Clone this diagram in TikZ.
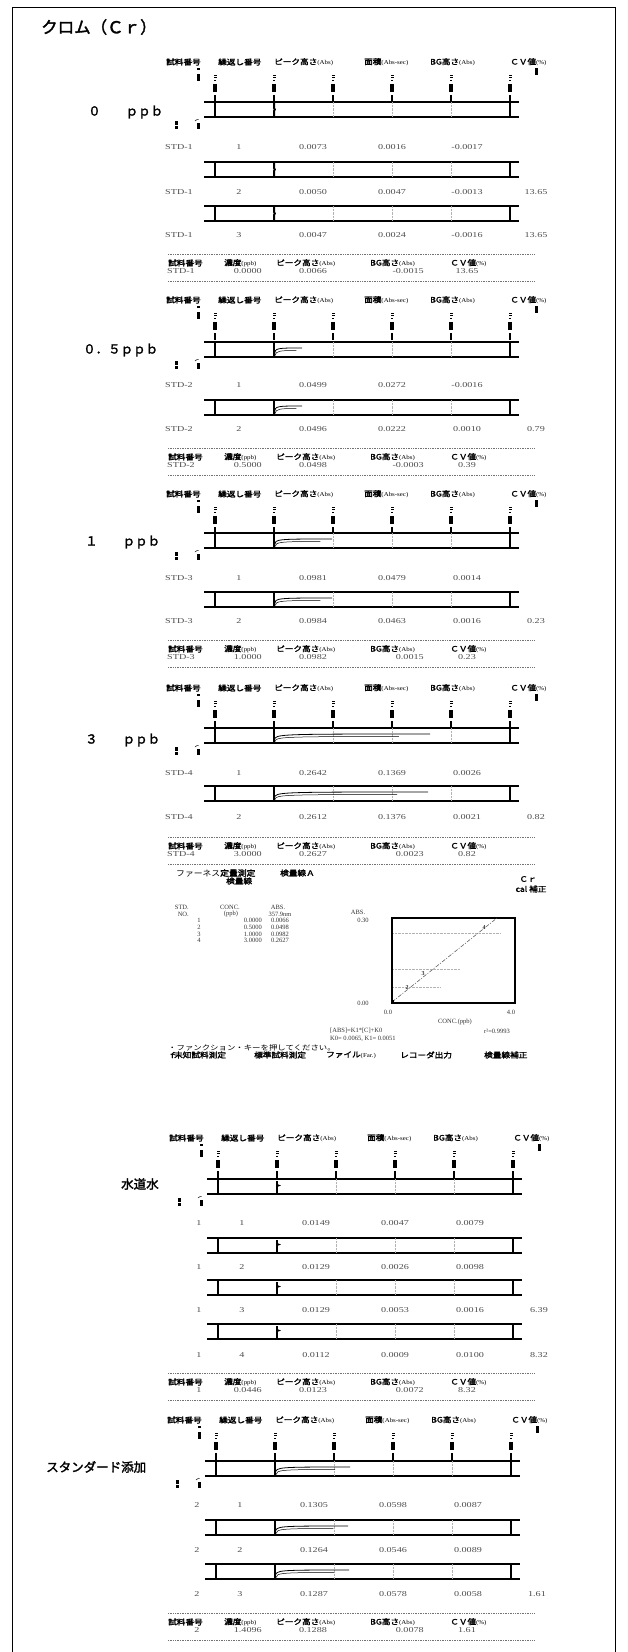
\documentclass[tikz,border=0pt]{standalone}
\usepackage{fontspec}
\setmainfont{Liberation Serif}
\newfontfamily\jfont{Noto Sans CJK JP}
\newfontfamily\jbold{Noto Sans CJK JP}[FakeBold=2]
\newfontfamily\numfont{Liberation Serif}

\tikzset{
  hdr/.style={anchor=west,inner sep=0pt,xscale=1.15,font=\jbold\fontsize{7.5}{8}\selectfont},
  val/.style={inner sep=0pt,xscale=1.35,text=black!70,font=\numfont\fontsize{7.5}{8}\selectfont},
  conc/.style={anchor=west,inner sep=0pt,font=\jbold\fontsize{12.5}{13}\selectfont},
  tiny/.style={inner sep=0pt,text=black!80,font=\numfont\fontsize{6.5}{7}\selectfont},
  rail/.style={line width=1.3pt},
  edge/.style={line width=1.4pt},
  faint/.style={black!30,line width=0.4pt,densely dotted},
  spike/.style={line width=1.6pt},
  cut/.style={black!55,line width=0.5pt,dash pattern=on 1pt off 0.7pt},
}
\newcommand{\ab}[1]{{\numfont\fontsize{6}{7}\selectfont #1}}

% small unreadable print marks
\newcommand{\tickglyph}[2]{%
  \fill (#1-1.5,#2) rectangle ++(3,1.2);
  \fill (#1-1.5,#2+2) rectangle ++(3,1.2);
  \fill (#1-0.6,#2+5) rectangle ++(1.2,1.2);
  \fill (#1-1.8,#2+9) rectangle ++(3.6,8);
}
\newcommand{\colhead}[2]{%
  \node[hdr] (h#2a) at (#1-49,#2) {試料番号};
  \node[hdr] (h#2b) at (#1+3,#2) {繰返し番号};
  \node[hdr] (h#2c) at (#1+59,#2) {ピーク高さ\ab{(Abs)}};
  \node[hdr] (h#2d) at (#1+149,#2) {面積\ab{(Abs-sec)}};
  \node[hdr] (h#2e) at (#1+215,#2) {BG高さ\ab{(Abs)}};
  \node[hdr] (h#2f) at (#1+295,#2) {ＣＶ値\ab{(\%)}};
  \fill (#1-18.5,#2+6) rectangle ++(3,2);
  \fill (#1-18.5,#2+12) rectangle ++(3,7);
  \fill (#1+319.5,#2+6) rectangle ++(3,7);
  \foreach \k in {0,...,5}{
    \tickglyph{#1+59*\k}{#2+13}
    \draw[edge] (#1+59*\k,#2+33) -- (#1+59*\k,#2+40);
  }
}
\newcommand{\panel}[2]{%
  \draw[rail] (#1-11,#2) -- ++(315,0);
  \draw[rail] (#1-11,#2+15) -- ++(315,0);
  \draw[edge] (#1,#2) -- ++(0,15);
  \draw[edge] (#1+295,#2) -- ++(0,15);
  \foreach \k in {2,3,4} \draw[faint] (#1+59*\k,#2) -- ++(0,15);
}
\newcommand{\lowmarks}[2]{%
  \fill (#1-40,#2+4) rectangle ++(2.5,4);
  \fill (#1-40,#2+9) rectangle ++(2.5,3);
  \draw[line width=0.5pt] (#1-20,#2+4) -- ++(2,-1.5) -- ++(1.5,0);
  \fill (#1-18.5,#2+6) rectangle ++(3,6);
}
\newcommand{\blip}[2]{%
  \draw[spike,line width=2pt] (#1+59,#2+1) -- ++(0,5) -- ++(0.8,1.5) -- ++(-0.8,1.5) -- ++(0,6);
}
\newcommand{\flag}[2]{%
  \draw[spike] (#1+59,#2+2) -- ++(0,13);
  \fill (#1+59,#2+5) -- ++(4,1.5) -- ++(-4,1.5) -- cycle;
}
\newcommand{\tail}[3]{%
  \draw[spike] (#1+59,#2+1) -- ++(0,14);
  \draw[line width=0.8pt] (#1+59.5,#2+12) .. controls (#1+60,#2+6) and (#1+62,#2+6) .. (#1+59+#3,#2+6);
  \draw[line width=0.5pt] (#1+60,#2+13.5) .. controls (#1+61,#2+9) and (#1+64,#2+8.5) .. (#1+59+0.8*#3,#2+8.5);
}
\newcommand{\rowvals}[9]{%
  \node[val] (r#2a) at (#3,#2) {#4};
  \node[val] (r#2b) at (#1+24,#2) {#5};
  \node[val] (r#2c) at (#1+98,#2) {#6};
  \node[val] (r#2d) at (#1+177,#2) {#7};
  \node[val] (r#2e) at (#1+252,#2) {#8};
  \node[val] (r#2f) at (#1+321,#2) {#9};
}
\newcommand{\summary}[8]{%
  \draw[cut] (#1-47,#2-9) -- (#1+319,#2-9);
  \node[hdr] (s#2a) at (#1-47,#2) {試料番号};
  \node[hdr] (s#2b) at (#1+9,#2) {濃度\ab{(ppb)}};
  \node[hdr] (s#2c) at (#1+61,#2) {ピーク高さ\ab{(Abs)}};
  \node[hdr] (s#2d) at (#1+155,#2) {BG高さ\ab{(Abs)}};
  \node[hdr] (s#2e) at (#1+235,#2) {ＣＶ値\ab{(\%)}};
  \node[val] (v#2a) at (#3,#2+8) {#4};
  \node[val,anchor=east] (v#2b) at (#1+47,#2+8) {#5};
  \node[val] (v#2c) at (#1+98,#2+8) {#6};
  \node[val,anchor=east] (v#2d) at (#1+209,#2+8) {#7};
  \node[val] (v#2e) at (#1+252,#2+8) {#8};
  \draw[cut] (#1-47,#2+18) -- (#1+319,#2+18);
}

\begin{document}
\begin{tikzpicture}[x=1pt,y=-1pt]
\useasboundingbox (0,0) rectangle (628,1652);
\draw[line width=1pt] (12,1652) -- (12,7) -- (615,7) -- (615,1652);
\node[anchor=west,inner sep=0pt,font=\jbold\fontsize{16.5}{17}\selectfont] (ttl) at (41,27) {クロム（Ｃｒ）};

% 0 ppb
\colhead{215}{62}
\node[conc] (c0) at (88,112) {０　　ｐｐｂ};
\panel{215}{102}\blip{215}{102}\lowmarks{215}{117}
\rowvals{215}{147}{179}{STD-1}{1}{0.0073}{0.0016}{-0.0017}{}
\panel{215}{162}\blip{215}{162}
\rowvals{215}{192}{179}{STD-1}{2}{0.0050}{0.0047}{-0.0013}{13.65}
\panel{215}{206}\blip{215}{206}
\rowvals{215}{235}{179}{STD-1}{3}{0.0047}{0.0024}{-0.0016}{13.65}
\summary{215}{263}{181}{STD-1}{0.0000}{0.0066}{-0.0015}{13.65}

% 0.5 ppb
\colhead{215}{300}
\node[conc] (c05) at (83,350) {０．５ｐｐｂ};
\panel{215}{342}\tail{215}{342}{28}\lowmarks{215}{357}
\rowvals{215}{385}{179}{STD-2}{1}{0.0499}{0.0272}{-0.0016}{}
\panel{215}{400}\tail{215}{400}{28}
\rowvals{215}{429}{179}{STD-2}{2}{0.0496}{0.0222}{0.0010}{0.79}
\summary{215}{457}{181}{STD-2}{0.5000}{0.0498}{-0.0003}{0.39}

% 1 ppb
\colhead{215}{494}
\node[conc] (c1) at (85,542) {１　　ｐｐｂ};
\panel{215}{533}\tail{215}{533}{58}\lowmarks{215}{548}
\rowvals{215}{578}{179}{STD-3}{1}{0.0981}{0.0479}{0.0014}{}
\panel{215}{592}\tail{215}{592}{58}
\rowvals{215}{621}{179}{STD-3}{2}{0.0984}{0.0463}{0.0016}{0.23}
\summary{215}{649}{181}{STD-3}{1.0000}{0.0982}{0.0015}{0.23}

% 3 ppb
\colhead{215}{688}
\node[conc] (c3) at (85,740) {３　　ｐｐｂ};
\panel{215}{728}\tail{215}{728}{156}\lowmarks{215}{743}
\rowvals{215}{773}{179}{STD-4}{1}{0.2642}{0.1369}{0.0026}{}
\panel{215}{786}\tail{215}{786}{154}
\rowvals{215}{817}{179}{STD-4}{2}{0.2612}{0.1376}{0.0021}{0.82}
\summary{215}{846}{181}{STD-4}{3.0000}{0.2627}{0.0023}{0.82}

% calibration
\node[anchor=west,inner sep=0pt,xscale=1.1,font=\jfont\fontsize{8}{9}\selectfont] (fur) at (176,873) {ファーネス{\jbold 定量測定}};
\node[hdr] (kA) at (280,873) {検量線Ａ};
\node[hdr] (kB) at (226,881) {検量線};
\node[hdr,anchor=center] (cr) at (528,879) {Ｃｒ};
\node[hdr,anchor=center] (cal) at (531,889) {cal 補正};
\node[tiny,anchor=east] (t1) at (189,907) {STD.};
\node[tiny,anchor=east] (t2) at (189,914) {NO.};
\node[tiny] (t3) at (230,907) {CONC.};
\node[tiny] (t4) at (231,914) {(ppb)};
\node[tiny] (t5) at (278,907) {ABS.};
\node[tiny] (t6) at (280,914) {357.9nm};
\foreach \n/\c/\a [count=\i] in {1/0.0000/0.0066,2/0.5000/0.0498,3/1.0000/0.0982,4/3.0000/0.2627}{
  \node[tiny] (n\i) at (199,914+6.7*\i) {\n};
  \node[tiny,anchor=east] (cc\i) at (262,914+6.7*\i) {\c};
  \node[tiny] (aa\i) at (280,914+6.7*\i) {\a};
}
\node[tiny] (ya) at (358,912) {ABS.};
\node[tiny] (yt) at (363,920) {0.30};
\node[tiny] (yb) at (363,1003) {0.00};
\node[tiny] (xa) at (388,1012) {0.0};
\node[tiny] (xb) at (511,1012) {4.0};
\node[tiny] (xl) at (455,1022) {CONC.(ppb)};
\draw[faint] (392,933) -- (500,933);
\draw[faint] (392,969) -- (460,969);
\draw[faint] (392,987) -- (440,987);
\draw[line width=1.2pt] (392,918) rectangle (515,1003);
\draw[black!70,line width=0.5pt,dash pattern=on 4pt off 1.5pt on 1pt off 1.5pt] (392,1002) -- (497,918);
\fill (392,1000) rectangle ++(2,2);
\node[tiny,font=\numfont\bfseries\fontsize{6}{7}\selectfont] (p2) at (407,988) {2};
\node[tiny,font=\numfont\bfseries\fontsize{6}{7}\selectfont] (p3) at (423,974) {3};
\node[tiny,font=\numfont\bfseries\fontsize{6}{7}\selectfont] (p4) at (484,928) {4};
\node[tiny,anchor=west] (eq) at (330,1031) {[ABS]=K1*[C]+K0};
\node[tiny,anchor=west] (r2) at (484,1031) {r²=0.9993};
\node[tiny,anchor=west] (kk) at (330,1039) {K0= 0.0065, K1= 0.0051};
\node[anchor=west,inner sep=0pt,xscale=1.2,font=\jfont\fontsize{7}{8}\selectfont] (fk) at (168,1048) {・ファンクション・キーを押してください。};
\node[hdr] (f0) at (168,1055) {ｆ};
\node[hdr] (f1) at (174,1055) {未知試料測定};
\node[hdr] (f2) at (254,1055) {標準試料測定};
\node[hdr] (f3) at (326,1055) {ファイル\ab{(Far.)}};
\node[hdr] (f4) at (400,1055) {レコーダ出力};
\node[hdr] (f5) at (484,1055) {検量線補正};

% tap water
\colhead{218}{1138}
\node[conc] (tap) at (121,1184) {水道水};
\panel{218}{1179}\flag{218}{1179}\lowmarks{218}{1194}
\rowvals{218}{1223}{199}{1}{1}{0.0149}{0.0047}{0.0079}{}
\panel{218}{1238}\flag{218}{1238}
\rowvals{218}{1267}{199}{1}{2}{0.0129}{0.0026}{0.0098}{}
\panel{218}{1280}\flag{218}{1280}
\rowvals{218}{1310}{199}{1}{3}{0.0129}{0.0053}{0.0016}{6.39}
\panel{218}{1324}\flag{218}{1324}
\rowvals{218}{1355}{199}{1}{4}{0.0112}{0.0009}{0.0100}{8.32}
\summary{215}{1382}{199}{1}{0.0446}{0.0123}{0.0072}{8.32}

% standard addition
\colhead{216}{1420}
\node[conc] (add) at (46,1467) {スタンダード添加};
\panel{216}{1461}\tail{216}{1461}{75}\lowmarks{216}{1476}
\rowvals{216}{1505}{197}{2}{1}{0.1305}{0.0598}{0.0087}{}
\panel{216}{1520}\tail{216}{1520}{73}
\rowvals{216}{1550}{197}{2}{2}{0.1264}{0.0546}{0.0089}{}
\panel{216}{1564}\tail{216}{1564}{74}
\rowvals{216}{1594}{197}{2}{3}{0.1287}{0.0578}{0.0058}{1.61}
\summary{215}{1622}{197}{2}{1.4096}{0.1288}{0.0078}{1.61}
\end{tikzpicture}
\end{document}
